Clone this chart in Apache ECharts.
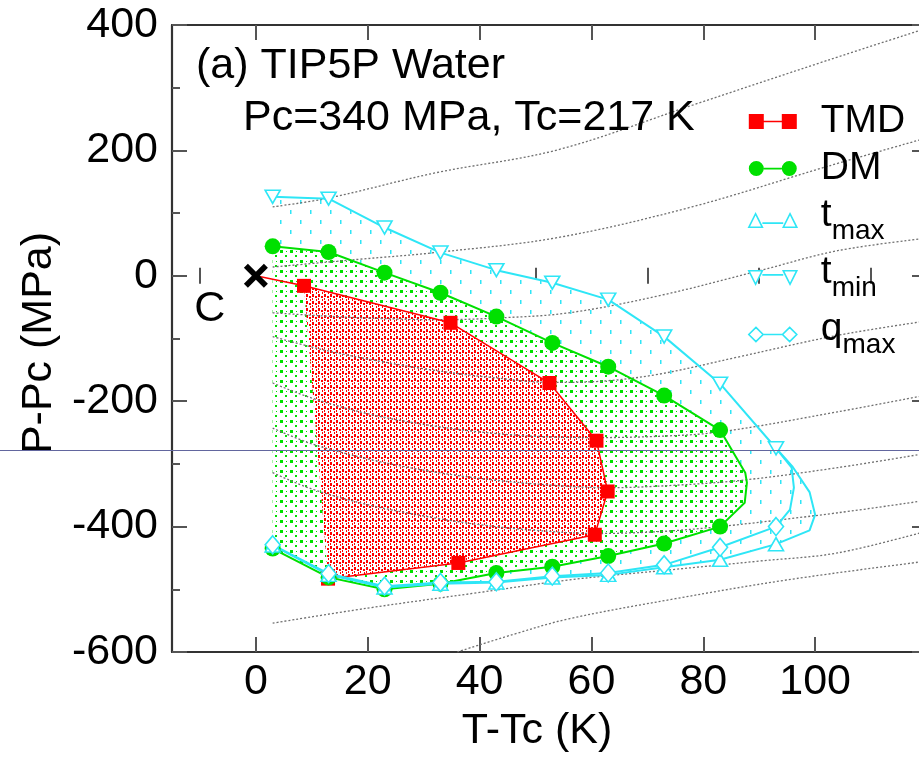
<!DOCTYPE html>
<html><head><meta charset="utf-8">
<script src="https://cdn.jsdelivr.net/npm/echarts@6/dist/echarts.min.js"></script>
<style>html,body{margin:0;padding:0;background:#fff;overflow:hidden}#c{width:927px;height:759px}</style>
</head><body><div id="c"></div>
<script>
// ---- tick values ----
const xTickMajor = [0, 20, 40, 60, 80, 100, 120];
const xTickMinor = [-10, 10, 30, 50, 70, 90, 110];
const xTickLabels = [0, 20, 40, 60, 80, 100];

// ---- data (T-Tc [K], P-Pc [MPa]) ----
const criticalPoint = [0, 0];
const tmdPts = [[8.6,-16],[34.8,-75],[52.5,-171],[60.9,-263],[62.9,-344],[60.6,-413],[36.2,-458],[12.9,-483]];
const dmUpper = [[3,47],[13,38],[23,5],[33,-27],[43,-65],[53,-107],[63,-145],[73,-191],[83,-246]];
const dmApex = [[87.5,-314],[87.8,-330],[87.4,-362]];
const dmLower = [[83,-400],[73,-427],[63,-447],[53,-464],[43,-474],[33,-491],[23,-500],[13,-481],[3,-435]];
const tminPts = [[3,126],[13,123],[23,77],[33,37],[43,9],[53,-11],[63,-38],[73,-97],[83,-172],[93,-275]];
const tmaxLower = [[3,-430],[13,-477],[23,-497],[33,-491],[43,-489],[53,-481],[63,-477],[73,-465],[83,-453],[93,-428]];
const tmaxApex = [[99,-406],[100,-381],[99,-345],[96,-305]];
const qmaxPts = [[3,-429],[13,-475],[23,-495],[33,-489],[43,-488],[53,-479],[63,-474],[73,-461],[83,-433],[93,-400]];
const qmaxApex = [[95.5,-373],[96.2,-338],[95.8,-306]];

// gray dotted isochores
const isoA = [[3,110],[13,124],[32,164],[54,201],[78,272],[102,343],[120,395]];
const isoB = [[3,14],[18,26],[32,37],[54,61],[78,110],[102,174],[120,220]];
const isoC = [[3,-59],[12,-64],[22,-68],[33,-70],[44,-67],[56,-59],[72,-32],[90,8],[104,40],[120,60]];
const isoD = [[3,-97],[12,-118],[22,-136],[32,-151],[42,-162],[53,-170],[62,-168],[72,-157],[86,-130],[104,-95],[120,-72]];
const isoE = [[3,-171],[10,-195],[20,-220],[30,-237],[40,-249],[50,-256],[61,-258],[72,-256],[83,-249],[104,-217],[120,-190]];
const isoF = [[3,-243],[10,-268],[20,-292],[30,-310],[40,-323],[50,-332],[63,-338],[75,-334],[87,-326],[104,-306],[120,-283]];
const isoG = [[3,-314],[10,-340],[20,-365],[30,-383],[40,-397],[50,-406],[61,-411],[72,-408],[83,-400],[104,-378],[120,-358]];
const isoH = [[3,-554],[20,-530],[40,-505],[56,-485],[74,-469],[90,-455],[104,-442],[120,-407]];
const isoI = [[36,-600],[46,-572],[56,-547],[75,-515],[95,-485],[120,-455]];
const isochores = [isoA, isoB, isoC, isoD, isoE, isoF, isoG, isoH, isoI];

// ---- styling ----
const FONT = "'Liberation Sans', Arial, Helvetica, sans-serif";
const RED = '#ff0000', GREEN = '#00e000', CYAN = '#2ee6f6';

function makePattern(w, h, bg, color, rects) {
  const c = document.createElement('canvas');
  c.width = w; c.height = h;
  const g = c.getContext('2d');
  if (bg) { g.fillStyle = bg; g.fillRect(0, 0, w, h); }
  g.fillStyle = color;
  rects.forEach(r => g.fillRect(r[0], r[1], r[2], r[3]));
  return { image: c, repeat: 'repeat' };
}
const redFill = makePattern(6, 7, '#ffffff', RED, [[0,0,2,3],[0,4,1,2],[3,2,2,2],[4,5,1,2]]);
const greenFill = makePattern(10, 10, '#ffffff', GREEN, [[0,0,3,3],[5,5,2,2],[6,1,1,1]]);
const cyanFill = makePattern(20, 20, '#ffffff', CYAN, [[0,0,1.5,4],[10,10,1.5,4]]);

function polySeries(points, fill) {
  return {
    type: 'custom', silent: true, z: 1, clip: true, animation: false,
    data: [[points[0][0], points[0][1]]],
    renderItem: function (params, api) {
      return { type: 'polygon', shape: { points: points.map(p => api.coord(p)) }, style: { fill: fill, stroke: null } };
    }
  };
}

const mk = (pts) => pts.map(p => ({ value: p }));
const nm = (pts) => pts.map(p => ({ value: p, symbol: 'none' }));

const cyanPoly = tminPts.concat(tmaxApex.slice().reverse(), tmaxLower.slice().reverse());
const greenPoly = dmUpper.concat(dmApex, dmLower);
const redPoly = tmdPts.slice();

const isoSeries = isochores.map(d => ({
  type: 'line', data: d, smooth: 0.35, symbol: 'none', silent: true, z: 2, animation: false,
  lineStyle: { color: '#707070', width: 1.3, type: [2, 2] }
}));

const hollow = (c) => ({ color: '#ffffff', borderColor: c, borderWidth: 1.6, opacity: 1 });

const chart = echarts.init(document.getElementById('c'), null, { renderer: 'canvas', width: 927, height: 759 });
const option = {
  animation: false,
  backgroundColor: '#ffffff',
  textStyle: { fontFamily: FONT },
  title: [
    { text: '(a) TIP5P Water', left: 196, top: 45, padding: 0,
      textStyle: { fontSize: 43, fontWeight: 'normal', color: '#000', fontFamily: FONT } },
    { text: 'Pc=340 MPa, Tc=217 K', left: 243, top: 97, padding: 0,
      textStyle: { fontSize: 43, fontWeight: 'normal', color: '#000', fontFamily: FONT } }
  ],
  grid: { left: 172, top: 25, right: 0, bottom: 107, containLabel: false },
  legend: {
    orient: 'vertical', left: 748, top: 102, padding: 0, itemGap: 8,
    itemWidth: 48, itemHeight: 15, selectedMode: false,
    textStyle: {
      fontSize: 39, color: '#000', fontFamily: FONT, padding: [0, 0, 0, 19],
      rich: {
        t: { fontSize: 39, color: '#000', verticalAlign: 'top', fontFamily: FONT },
        s: { fontSize: 28, color: '#000', verticalAlign: 'top', padding: [21, 0, 0, 0], fontFamily: FONT }
      }
    },
    formatter: function (n) {
      if (n === 'tmax') return '{t|t}{s|max}';
      if (n === 'tmin') return '{t|t}{s|min}';
      if (n === 'qmax') return '{t|q}{s|max}';
      return n;
    },
    data: [
      { name: 'TMD', icon: 'path://M0,0h15v15h-15z M33,0h15v15h-15z M15,6.8h18v1.4h-18z', itemStyle: { color: RED, borderColor: RED, borderWidth: 0 } },
      { name: 'DM', icon: 'path://M0,7.5a7.5,7.5 0 1,0 15,0a7.5,7.5 0 1,0 -15,0z M33,7.5a7.5,7.5 0 1,0 15,0a7.5,7.5 0 1,0 -15,0z M15,6.8h18v1.6h-18z', itemStyle: { color: GREEN, borderColor: GREEN, borderWidth: 0 } },
      { name: 'tmax', icon: 'path://M1,14L7.5,1L14,14z M34,14L40.5,1L47,14z M14,10L34,10', itemStyle: hollow(CYAN) },
      { name: 'tmin', icon: 'path://M1,1L14,1L7.5,14z M34,1L47,1L40.5,14z M14,5L34,5', itemStyle: hollow(CYAN) },
      { name: 'qmax', icon: 'path://M7.5,0.5L14.5,7.5L7.5,14.5L0.5,7.5z M40.5,0.5L47.5,7.5L40.5,14.5L33.5,7.5z M14.5,7.5L33.5,7.5', itemStyle: hollow(CYAN) }
    ]
  },
  xAxis: [
    { type: 'value', position: 'bottom', min: -15, max: 120,
      name: 'T-Tc (K)', nameLocation: 'middle', nameGap: 58,
      nameTextStyle: { fontSize: 43, color: '#000', fontFamily: FONT, padding: [0, 25, 0, 0] },
      axisLine: { show: true, onZero: false, lineStyle: { color: '#333', width: 2.2 } },
      axisTick: { show: true, inside: true, length: 15, customValues: xTickMajor, lineStyle: { color: '#555', width: 2 } },
      axisLabel: { show: true, customValues: xTickLabels, fontSize: 43, color: '#000', margin: 9, fontFamily: FONT },
      splitLine: { show: false } },
    { type: 'value', position: 'bottom', min: -15, max: 120,
      axisLine: { show: false },
      axisTick: { show: true, inside: true, length: 8, customValues: xTickMinor, lineStyle: { color: '#555', width: 2 } },
      axisLabel: { show: false }, splitLine: { show: false } },
    { type: 'value', position: 'top', min: -15, max: 120,
      axisLine: { show: true, onZero: false, lineStyle: { color: '#333', width: 2.2 } },
      axisTick: { show: true, inside: true, length: 15, customValues: xTickMajor, lineStyle: { color: '#555', width: 2 } },
      axisLabel: { show: false }, splitLine: { show: false } },
    { type: 'value', position: 'top', min: -15, max: 120,
      axisLine: { show: false },
      axisTick: { show: true, inside: true, length: 8, customValues: xTickMinor, lineStyle: { color: '#555', width: 2 } },
      axisLabel: { show: false }, splitLine: { show: false } }
  ],
  yAxis: [
    { type: 'value', position: 'left', min: -600, max: 400, interval: 200,
      name: 'P-Pc (MPa)', nameLocation: 'middle', nameGap: 108, nameRotate: 90,
      nameTextStyle: { fontSize: 43, color: '#000', fontFamily: FONT, padding: [0, 9, 0, 0] },
      axisLine: { show: true, onZero: false, lineStyle: { color: '#333', width: 2.2 } },
      axisTick: { show: true, inside: true, length: 15, lineStyle: { color: '#555', width: 2 } },
      minorTick: { show: true, splitNumber: 2, length: 8, lineStyle: { color: '#555', width: 2 } },
      axisLabel: { fontSize: 43, color: '#000', margin: 14, fontFamily: FONT },
      splitLine: { show: false }, minorSplitLine: { show: false } },
    { type: 'value', position: 'right', min: -600, max: 400, interval: 200,
      axisLine: { show: true, onZero: false, lineStyle: { color: '#333', width: 2.2 } },
      axisTick: { show: true, inside: true, length: 15, lineStyle: { color: '#555', width: 2 } },
      minorTick: { show: true, splitNumber: 2, length: 8, lineStyle: { color: '#555', width: 2 } },
      axisLabel: { show: false }, splitLine: { show: false } }
  ],
  graphic: [
    { type: 'line', z: 100, silent: true, shape: { x1: 0, y1: 450.5, x2: 927, y2: 450.5 }, style: { stroke: '#62669e', lineWidth: 1 } }
  ],
  series: [
    polySeries(cyanPoly, cyanFill),
    polySeries(greenPoly, greenFill),
    polySeries(redPoly, redFill),
    ...isoSeries,
    { name: 'TMD', type: 'line', z: 5, symbol: 'rect', symbolSize: 14,
      data: [{ value: criticalPoint, symbol: 'none' }].concat(mk(tmdPts)),
      itemStyle: { color: RED }, lineStyle: { color: RED, width: 1.5 } },
    { name: 'DM', type: 'line', z: 5, symbol: 'circle', symbolSize: 16,
      data: mk(dmUpper).concat(nm(dmApex), mk(dmLower)),
      itemStyle: { color: GREEN }, lineStyle: { color: GREEN, width: 2 } },
    { name: 'tmax', type: 'line', z: 5, symbol: 'triangle', symbolSize: [15, 13],
      data: mk(tmaxLower).concat(nm(tmaxApex), nm([tminPts[tminPts.length - 1]])),
      itemStyle: hollow(CYAN), lineStyle: { color: CYAN, width: 2 } },
    { name: 'tmin', type: 'line', z: 5, symbol: 'triangle', symbolRotate: 180, symbolSize: [15, 13],
      data: mk(tminPts),
      itemStyle: hollow(CYAN), lineStyle: { color: CYAN, width: 2 } },
    { name: 'qmax', type: 'line', z: 5, symbol: 'diamond', symbolSize: [15, 18],
      data: mk(qmaxPts).concat(nm(qmaxApex), nm([tminPts[tminPts.length - 1]])),
      itemStyle: hollow(CYAN), lineStyle: { color: CYAN, width: 2 } },
    { name: 'C', type: 'scatter', z: 6, data: [criticalPoint],
      symbol: 'path://M0,4L4,0L12,8L20,0L24,4L16,12L24,20L20,24L12,16L4,24L0,20L8,12Z', symbolSize: 24,
      itemStyle: { color: '#000', opacity: 1 },
      label: { show: true, formatter: 'C', position: 'inside', offset: [-46, 33], fontSize: 43, color: '#000', opacity: 1, fontFamily: FONT } }
  ]
};
chart.setOption(option);
</script>
</body></html>
